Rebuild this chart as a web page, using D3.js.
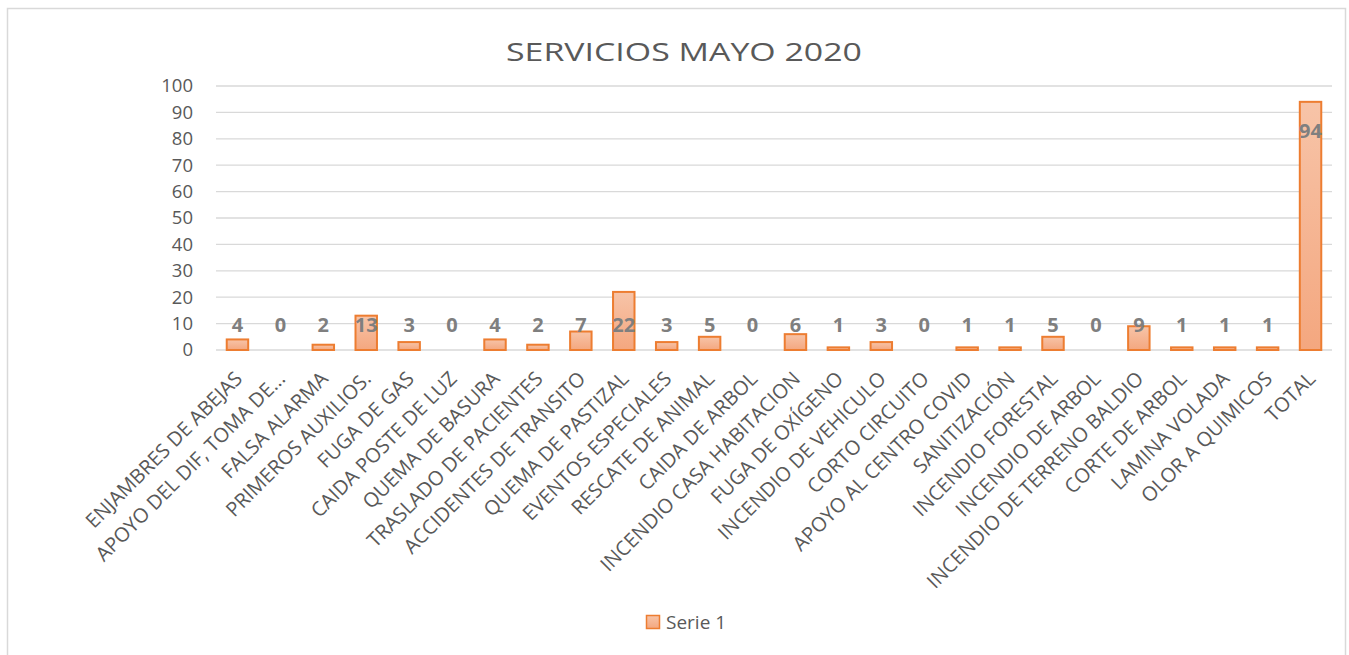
<script src="https://d3js.org/d3.v7.min.js"></script>
<style>
  body { margin: 0; background: #fff; }
  text { font-family: "Open Sans", sans-serif; }
</style>
<body>
<svg width="1349" height="655"></svg>
<script>
const categories = ["ENJAMBRES DE ABEJAS", "APOYO DEL DIF, TOMA DE...", "FALSA ALARMA", "PRIMEROS AUXILIOS.",
  "FUGA DE GAS", "CAIDA POSTE DE LUZ", "QUEMA DE BASURA", "TRASLADO DE PACIENTES", "ACCIDENTES DE TRANSITO",
  "QUEMA DE PASTIZAL", "EVENTOS ESPECIALES", "RESCATE DE ANIMAL", "CAIDA DE ARBOL", "INCENDIO CASA HABITACION",
  "FUGA DE OXÍGENO", "INCENDIO DE VEHICULO", "CORTO CIRCUITO", "APOYO AL CENTRO COVID", "SANITIZACIÓN",
  "INCENDIO FORESTAL", "INCENDIO DE ARBOL", "INCENDIO DE TERRENO BALDIO", "CORTE DE ARBOL", "LAMINA VOLADA",
  "OLOR A QUIMICOS", "TOTAL"];
const serie1 = [4, 0, 2, 13, 3, 0, 4, 2, 7, 22, 3, 5, 0, 6, 1, 3, 0, 1, 1, 5, 0, 9, 1, 1, 1, 94];
const yTicks = [0, 10, 20, 30, 40, 50, 60, 70, 80, 90, 100];
const title = "SERVICIOS MAYO 2020";
const seriesName = "Serie 1";

const svg = d3.select("svg");

// outer chart border
svg.append("rect").attr("x", 7.5).attr("y", 8.5).attr("width", 1338).attr("height", 700)
  .attr("fill", "none").attr("stroke", "#d9d9d9").attr("stroke-width", 1.5);

const defs = svg.append("defs");
const grad = defs.append("linearGradient").attr("id", "barGrad")
  .attr("x1", 0).attr("y1", 0).attr("x2", 0).attr("y2", 1);
grad.append("stop").attr("offset", "0%").attr("stop-color", "#f7c4a8");
grad.append("stop").attr("offset", "100%").attr("stop-color", "#f4a77f");

const x = d3.scaleBand().domain(categories).range([216, 1332]).paddingInner(0.5).paddingOuter(0.25);
const y = d3.scaleLinear().domain([0, 100]).range([350, 86]);

// gridlines
svg.append("g").selectAll("line").data(yTicks).join("line")
  .attr("x1", 216).attr("x2", 1332)
  .attr("y1", d => y(d)).attr("y2", d => y(d))
  .attr("stroke", "#d9d9d9").attr("stroke-width", 1.3);

// y axis labels
const yAxis = svg.append("g").attr("transform", "translate(216,0)")
  .call(d3.axisLeft(y).tickValues(yTicks).tickSize(0).tickPadding(23));
yAxis.select(".domain").remove();
yAxis.selectAll("text").attr("fill", "#595959").style("font-size", "18.5px")
  .style("font-family", "'Open Sans', sans-serif");

// bars
svg.append("g").selectAll("rect").data(serie1).join("rect")
  .attr("x", (d, i) => x(categories[i]))
  .attr("y", d => y(d))
  .attr("width", x.bandwidth())
  .attr("height", d => y(0) - y(d))
  .attr("fill", "url(#barGrad)")
  .attr("stroke", "#ed7d31").attr("stroke-width", 2)
  .attr("display", d => d === 0 ? "none" : null);

// value labels
svg.append("g").selectAll("text").data(serie1).join("text")
  .attr("x", (d, i) => x(categories[i]) + x.bandwidth() / 2)
  .attr("y", d => d > 50 ? y(d) + 36 : y(10) + 8)
  .attr("text-anchor", "middle")
  .attr("fill", "#7f7f7f").style("font-size", "20px").style("font-weight", "bold")
  .text(d => d);

// x axis labels
svg.append("g").selectAll("text").data(categories).join("text")
  .attr("transform", d => `translate(${x(d) + x.bandwidth() / 2 + 6},380) rotate(-45)`)
  .attr("text-anchor", "end")
  .attr("fill", "#595959").style("font-size", "20px")
  .text(d => d);

// title
svg.append("text").attr("x", 684).attr("y", 61).attr("text-anchor", "middle")
  .attr("fill", "#595959").style("font-size", "26px")
  .attr("textLength", 356).attr("lengthAdjust", "spacingAndGlyphs")
  .text(title);

// legend
svg.append("rect").attr("x", 646.5).attr("y", 615.5).attr("width", 13).attr("height", 13)
  .attr("fill", "url(#barGrad)").attr("stroke", "#ed7d31").attr("stroke-width", 1.5);
svg.append("text").attr("x", 666).attr("y", 629).attr("fill", "#595959")
  .style("font-size", "19px").text(seriesName);
</script>
</body>
